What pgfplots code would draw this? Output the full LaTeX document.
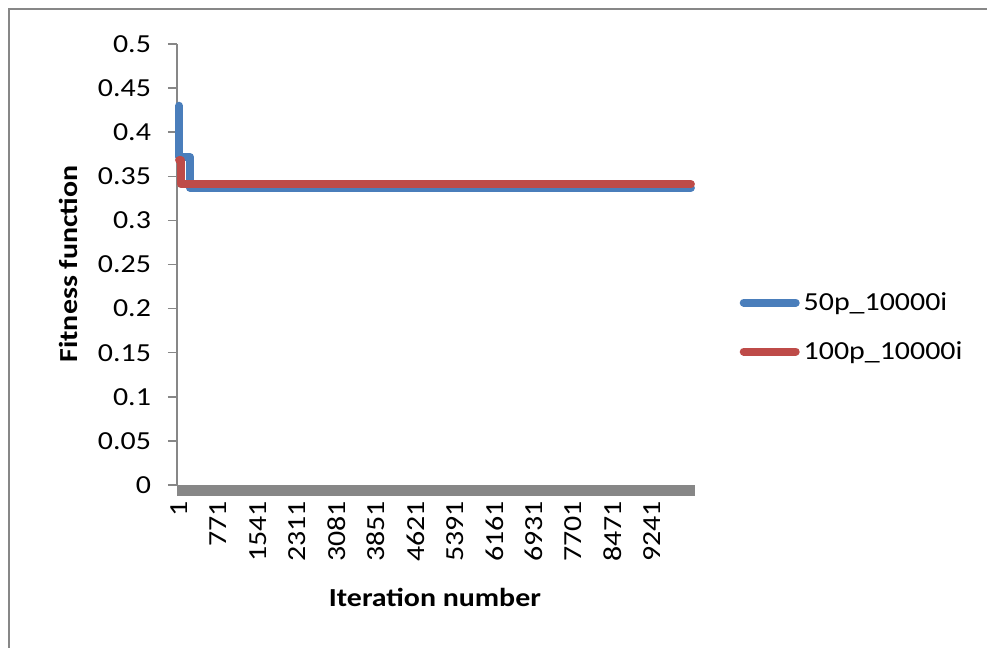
\documentclass[border=0pt]{standalone}
\usepackage{fontspec}
\setmainfont{Carlito}[FakeStretch=1.15]
\usepackage{pgfplots}
\pgfplotsset{compat=1.18}
\definecolor{xlblue}{HTML}{4A7EBB}
\definecolor{xlred}{HTML}{BE4B48}
\definecolor{xlgray}{HTML}{878787}
\begin{document}
\begin{tikzpicture}
\useasboundingbox (-88.5pt,-81.5pt) rectangle (405pt,242.5pt);
\draw[xlgray, line width=1pt] (-84pt,-81.5pt) -- (-84pt,238pt) -- (405pt,238pt);
\begin{axis}[
  at={(0pt,0pt)}, anchor=south west,
  width=259pt, height=220.5pt, scale only axis,
  xmin=-40, xmax=10080, ymin=0, ymax=0.5,
  clip=false,
  scaled x ticks=false, scaled y ticks=false,
  axis lines*=left,
  x axis line style={draw=none},
  y axis line style={xlgray, line width=0.75pt},
  tick align=outside, major tick length=4.5pt,
  y tick style={xlgray, line width=0.75pt},
  x tick style={draw=none},
  ytick={0,0.05,0.1,0.15,0.2,0.25,0.3,0.35,0.4,0.45,0.5},
  yticklabels={0,0.05,0.1,0.15,0.2,0.25,0.3,0.35,0.4,0.45,0.5},
  xtick={1,771,1541,2311,3081,3851,4621,5391,6161,6931,7701,8471,9241},
  xticklabels={1,771,1541,2311,3081,3851,4621,5391,6161,6931,7701,8471,9241},
  x tick label style={rotate=90, anchor=east},
  yticklabel style={xshift=-5pt},
  tick label style={font=\fontsize{13}{15.6}\selectfont},
  xlabel={Iteration number},
  ylabel={Fitness function},
  label style={font=\fontsize{13}{15.6}\selectfont\bfseries},
  xlabel style={at={(axis description cs:0.498,-0.254)}, anchor=center},
  ylabel style={at={(axis description cs:-0.2104,0.501)}, anchor=center},
  legend style={at={(axis description cs:1.074,0.358)}, anchor=west, draw=none, fill=none,
    font=\fontsize{13}{15.6}\selectfont, row sep=10pt, legend cell align=left},
  legend image code/.code={\draw[line width=4pt, line cap=round, #1] (0pt,0pt) -- (26pt,0pt);},
]
\addplot[xlgray, line width=5.5pt, forget plot] coordinates {(-40,-0.0062) (10080,-0.0062)};
\addplot[xlblue, line width=4pt, line join=round, line cap=round] coordinates {(1,0.430) (1,0.372) (214,0.372) (214,0.337) (10000,0.337)};
\addlegendentry{50p\_10000i}
\addplot[xlred, line width=4pt, line join=round, line cap=round] coordinates {(1,0.368) (40,0.368) (40,0.341) (10000,0.341)};
\addlegendentry{100p\_10000i}
\end{axis}
\end{tikzpicture}
\end{document}
